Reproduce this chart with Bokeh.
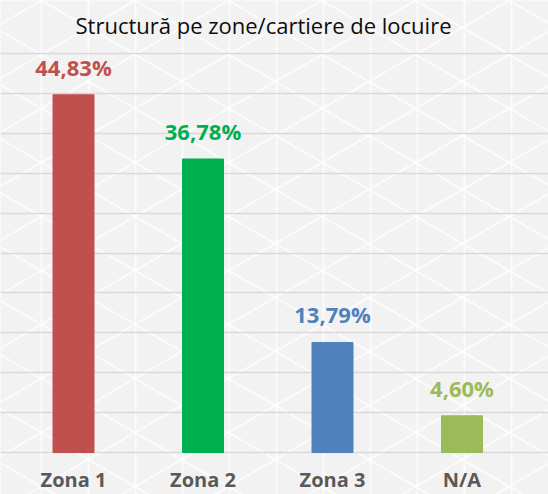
import math
from bokeh.plotting import figure
from bokeh.models import Range1d, FixedTicker, Label, ColumnDataSource
from bokeh.core.properties import value
from bokeh.embed import file_html
from bokeh.resources import INLINE

title_text = "Structură pe zone/cartiere de locuire"
categories = ["Zona 1", "Zona 2", "Zona 3", "N/A"]
percentages = [44.83, 36.78, 13.79, 4.60]
value_labels = ["44,83%", "36,78%", "13,79%", "4,60%"]
colors = ["#C0504D", "#00B050", "#4F81BD", "#9BBB59"]
grid_ticks = [0, 5, 10, 15, 20, 25, 30, 35, 40, 45, 50]

W, H = 548, 494
PX_PER_UNIT = 399 / 50.0     # vertical pixels per percent
BAND = 129.5                 # horizontal pixels per category
BASE_Y = 452                 # baseline pixel from top of frame
FIRST_CENTER = 73            # pixel of first category centre

x0 = 0.5 - FIRST_CENTER / BAND


def px_x(px):
    return x0 + px / BAND


def px_y(py):
    return (BASE_Y - py) / PX_PER_UNIT


xs = [i + 0.5 for i in range(len(categories))]
src = ColumnDataSource(dict(x=xs, top=percentages, lab=value_labels,
                            color=colors, cat=categories,
                            zero=[0] * len(categories)))

p = figure(width=W, height=H, output_backend="svg", toolbar_location=None,
           x_range=Range1d(px_x(0), px_x(W)),
           y_range=Range1d(px_y(H), px_y(0)),
           min_border=0, min_border_left=0, min_border_right=0,
           min_border_top=0, min_border_bottom=0)
p.background_fill_color = "#f2f2f2"
p.border_fill_color = "#f2f2f2"
p.outline_line_color = None
p.xaxis.visible = False
p.yaxis.visible = False
p.xgrid.visible = False
p.ygrid.ticker = FixedTicker(ticks=grid_ticks)
p.ygrid.grid_line_color = "#d9d9d9"
p.ygrid.grid_line_width = 1.6

# decorative triangular background pattern (page decoration, not data)
step_x, step_y, ox = 47, 54, 41
lx, ly = [], []
k = -1
while ox + k * step_x < W + step_x:
    xp = ox + k * step_x
    lx.append([px_x(xp), px_x(xp)])
    ly.append([px_y(-10), px_y(H + 10)])
    k += 1
slope = 1 / math.sqrt(3)
for j in range(-20, 30):
    c = j * step_y
    for s in (1, -1):
        xa, xb = -10, W + 10
        ya = c + s * slope * (xa - ox)
        yb = c + s * slope * (xb - ox)
        lx.append([px_x(xa), px_x(xb)])
        ly.append([px_y(ya), px_y(yb)])
p.multi_line(xs=lx, ys=ly, line_color="white", line_width=2,
             line_alpha=0.7, level="image")

p.vbar(x="x", top="top", bottom=0, width=41 / BAND, color="color", source=src)

p.text(x="x", y="top", text="lab", text_color="color", source=src,
       text_font=value("Open Sans"), text_font_style="bold",
       text_font_size="22px", text_align="center",
       text_baseline="alphabetic", y_offset=-28)

p.text(x="x", y="zero", text="cat", source=src, text_color="#595959",
       text_font=value("Open Sans"), text_font_style="bold",
       text_font_size="20px", text_align="center",
       text_baseline="alphabetic", y_offset=27)

title = Label(x=px_x(263), y=px_y(24), text=title_text,
              text_font="Open Sans", text_font_size="22px",
              text_color="#0d0d0d", text_align="center",
              text_baseline="alphabetic")
p.add_layout(title)

open("out.html", "w").write(file_html(p, INLINE))
